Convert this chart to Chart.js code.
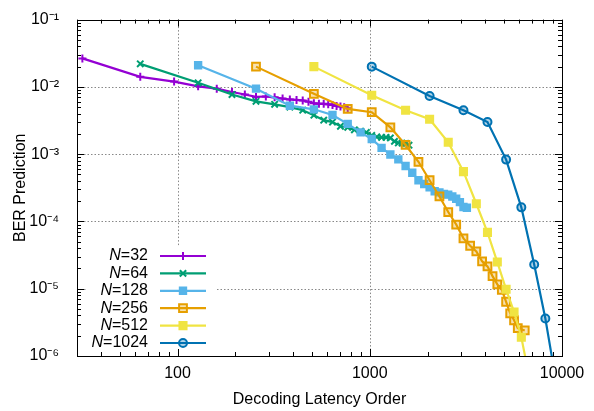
<!DOCTYPE html>
<html><head><meta charset="utf-8">
<script src="https://cdn.jsdelivr.net/npm/chart.js@4/dist/chart.umd.min.js"></script>
<style>html,body{margin:0;padding:0;background:#fff}#wrap{width:594px;height:411px}</style>
</head><body><div id="wrap"><canvas id="c" width="594" height="411"></canvas></div>
<script>
// ---- data ----
const seriesLabels = ['32', '64', '128', '256', '512', '1024'];
const n32X = [32,64,96,128,160,192,224,256,288,320,352,384,416,448,480,512,544,576,608,640,672,704,736,768];
const n32Y = [0.0265,0.0141,0.0120,0.0102,0.0094,0.0084,0.0077,0.0071,0.0072,0.0070,0.0067,0.0065,0.0064,0.0063,0.0060,0.0057,0.0056,0.0056,0.0055,0.0054,0.0052,0.0051,0.0050,0.0048];
const n64X = [64,128,192,256,320,384,448,512,576,640,704,768,832,896,960,1024,1088,1152,1216,1280,1344,1408,1472,1536,1600];
const n64Y = [0.022,0.0115,0.0077,0.0061,0.0055,0.0050,0.0045,0.0038,0.0032,0.0030,0.0026,0.0025,0.0023,0.0022,0.0021,0.0019,0.0018,0.00178,0.00177,0.00174,0.00155,0.00147,0.00146,0.00145,0.00136];
const n128X = [128,256,384,512,640,768,896,1024,1152,1280,1408,1536,1664,1792,1920,2048,2176,2304,2432,2560,2688,2816,2944,3072,3200];
const n128Y = [0.021,0.0094,0.00525,0.00464,0.00382,0.00282,0.00211,0.00168,0.00124,0.00099,0.000836,0.000668,0.00053,0.00041,0.00036,0.000321,0.000281,0.00027,0.000256,0.00025,0.000235,0.000217,0.000194,0.000164,0.00016];
const n256X = [256,512,768,1024,1280,1536,1792,2048,2304,2560,2816,3072,3328,3584,3840,4096,4352,4608,4864,5120,5376,5632,5888,6400];
const n256Y = [0.020,0.0079,0.0047,0.0042,0.0025,0.00137,0.00077,0.00041,0.000235,0.000138,0.000090,0.000056,0.0000435,0.0000358,0.0000255,0.0000215,0.0000154,0.0000116,0.0000096,0.0000064,0.0000043,0.0000034,0.0000026,0.0000024];
const n512X = [512,1024,1536,2048,2560,3072,3584,4096,4608,5120,5632,6144,6656];
const n512Y = [0.020,0.0075,0.0045,0.0033,0.0015,0.00055,0.000183,0.0000687,0.0000249,0.0000098,0.0000045,0.0000019,0.0000006];
const n1024X = [1024,2048,3072,4096,5120,6144,7168,8192,9216];
const n1024Y = [0.020,0.0073,0.0045,0.0030,0.00083,0.000162,0.0000229,0.0000036,0.0000005];
const xTicks = [100, 1000, 10000];
const yTickExponents = [-6, -5, -4, -3, -2, -1];

// ---- styles ----
const FONT = 'Liberation Sans, Arial, Helvetica, sans-serif';
const FS = 16;
const styles = [
  {color:'#9400d3', pt:'cross', r:4, bg:'#9400d3'},
  {color:'#009e73', pt:'crossRot', r:4.5, bg:'#009e73'},
  {color:'#56b4e9', pt:'rect', r:4.5, bg:'#56b4e9'},
  {color:'#e69f00', pt:'rect', r:5.5, bg:'rgba(230,159,0,0.3)'},
  {color:'#f0e442', pt:'rect', r:5, bg:'#f0e442'},
  {color:'#0072b2', pt:'circle', r:4, bg:'rgba(0,114,178,0.3)'}
];
const xs = [n32X, n64X, n128X, n256X, n512X, n1024X];
const ys = [n32Y, n64Y, n128Y, n256Y, n512Y, n1024Y];

const datasets = seriesLabels.map((lab, i) => ({
  label: 'N=' + lab,
  data: xs[i].map((x, j) => ({x: x, y: ys[i][j]})),
  borderColor: styles[i].color,
  backgroundColor: styles[i].bg,
  pointBackgroundColor: styles[i].bg,
  pointBorderColor: styles[i].color,
  pointStyle: styles[i].pt,
  pointRadius: styles[i].r,
  pointBorderWidth: 2,
  borderWidth: 2.2,
  tension: 0,
  fill: false,
  order: seriesLabels.length - i
}));

const SUP = {'-':'\u207B','0':'\u2070','1':'\u00B9','2':'\u00B2','3':'\u00B3','4':'\u2074','5':'\u2075','6':'\u2076','7':'\u2077','8':'\u2078','9':'\u2079'};
function sup(n){ return String(n).split('').map(c => SUP[c]).join(''); }

function drawMarker(ctx, st, x, y) {
  ctx.save();
  ctx.strokeStyle = st.color; ctx.fillStyle = st.bg; ctx.lineWidth = 2;
  const r = st.r;
  ctx.beginPath();
  if (st.pt === 'cross') { ctx.moveTo(x - r, y); ctx.lineTo(x + r, y); ctx.moveTo(x, y - r); ctx.lineTo(x, y + r); ctx.stroke(); }
  else if (st.pt === 'crossRot') { const d = r * Math.SQRT1_2; ctx.moveTo(x - d, y - d); ctx.lineTo(x + d, y + d); ctx.moveTo(x + d, y - d); ctx.lineTo(x - d, y + d); ctx.stroke(); }
  else if (st.pt === 'rect') { const s = r * Math.SQRT1_2; ctx.rect(x - s, y - s, 2 * s, 2 * s); ctx.fill(); ctx.stroke(); }
  else { ctx.arc(x, y, r, 0, Math.PI * 2); ctx.fill(); ctx.stroke(); }
  ctx.restore();
}

const framePlugin = {
  id: 'frame',
  beforeDatasetsDraw(chart) {
    const {ctx, chartArea: a, scales} = chart;
    ctx.save();
    ctx.strokeStyle = '#888'; ctx.lineWidth = 1; ctx.setLineDash([1.5, 2]);
    [100, 1000].forEach(v => { const px = Math.round(scales.x.getPixelForValue(v)) + 0.5; ctx.beginPath(); ctx.moveTo(px, a.top); ctx.lineTo(px, a.bottom); ctx.stroke(); });
    [-5, -4, -3, -2].forEach(e => { const py = Math.round(scales.y.getPixelForValue(Math.pow(10, e))) + 0.5; ctx.beginPath(); ctx.moveTo(a.left, py); ctx.lineTo(a.right, py); ctx.stroke(); });
    ctx.restore();
  },
  afterDatasetsDraw(chart) {
    const {ctx, chartArea: a, scales} = chart;
    ctx.save();
    // legend box (opaque)
    ctx.fillStyle = '#fff';
    ctx.fillRect(87, 247, 130, a.bottom - 248);
    // border
    ctx.strokeStyle = '#000'; ctx.lineWidth = 1; ctx.setLineDash([]);
    ctx.strokeRect(Math.round(a.left) + 0.5, Math.round(a.top) + 0.5, Math.round(a.right - a.left), Math.round(a.bottom - a.top));
    // ticks
    ctx.beginPath();
    for (let d = 10; d <= 10000; d *= 10) {
      for (let m = 1; m <= 9; m++) {
        const v = m * d; if (v < 30 || v > 10000) continue;
        const px = Math.round(scales.x.getPixelForValue(v)) + 0.5; const L = m === 1 ? 7 : 4;
        ctx.moveTo(px, a.bottom); ctx.lineTo(px, a.bottom - L);
        ctx.moveTo(px, a.top); ctx.lineTo(px, a.top + L);
      }
    }
    for (let e = -6; e <= -1; e++) {
      for (let m = 1; m <= 9; m++) {
        const v = m * Math.pow(10, e); if (v > 0.1000001) continue;
        const py = Math.round(scales.y.getPixelForValue(v)) + 0.5; const L = m === 1 ? 7 : 4;
        ctx.moveTo(a.left, py); ctx.lineTo(a.left + L, py);
        ctx.moveTo(a.right, py); ctx.lineTo(a.right - L, py);
      }
    }
    ctx.stroke();
    // legend entries
    const rowY0 = 256, dy = 17.4, textRight = 148, l0 = 160, l1 = 206;
    datasets.forEach((ds, i) => {
      const y = rowY0 + i * dy;
      ctx.fillStyle = '#000'; ctx.textBaseline = 'middle'; ctx.textAlign = 'right';
      ctx.font = FS + 'px ' + FONT;
      const rest = '=' + seriesLabels[i];
      const w = ctx.measureText(rest).width;
      ctx.fillText(rest, textRight, y);
      ctx.font = 'italic ' + FS + 'px ' + FONT;
      ctx.fillText('N', textRight - w, y);
      ctx.strokeStyle = styles[i].color; ctx.lineWidth = 2.2;
      ctx.beginPath(); ctx.moveTo(l0, y); ctx.lineTo(l1, y); ctx.stroke();
      drawMarker(ctx, styles[i], (l0 + l1) / 2, y);
    });
    ctx.restore();
  }
};

new Chart(document.getElementById('c').getContext('2d'), {
  type: 'line',
  data: {datasets: datasets},
  options: {
    responsive: false,
    animation: false,
    devicePixelRatio: 1,
    layout: {padding: {top: 15, right: 32, left: 0, bottom: 0}},
    plugins: {legend: {display: false}, tooltip: {enabled: false}},
    scales: {
      x: {
        type: 'logarithmic', min: 30, max: 10000,
        afterBuildTicks: s => { s.ticks = xTicks.map(v => ({value: v})); },
        afterFit: s => { s.height = 55; },
        ticks: {callback: v => String(Math.round(v)), color: '#000', font: {family: FONT, size: FS}, padding: 0, autoSkip: false, maxRotation: 0},
        grid: {display: false}, border: {display: false},
        title: {display: true, text: 'Decoding Latency Order', color: '#000', font: {family: FONT, size: FS}, padding: {top: 0, bottom: 2}}
      },
      y: {
        type: 'logarithmic', min: 1e-6, max: 1e-1,
        afterBuildTicks: s => { s.ticks = yTickExponents.map(e => ({value: Math.pow(10, e)})); },
        afterFit: s => { s.width = 77; },
        ticks: {callback: v => '10' + sup(Math.round(Math.log10(v))), color: '#000', font: {family: FONT, size: FS}, padding: 10, autoSkip: false},
        grid: {display: false}, border: {display: false},
        title: {display: true, text: 'BER Prediction', color: '#000', font: {family: FONT, size: FS}, padding: {top: 11, bottom: 0}}
      }
    }
  },
  plugins: [framePlugin]
});
</script></body></html>
